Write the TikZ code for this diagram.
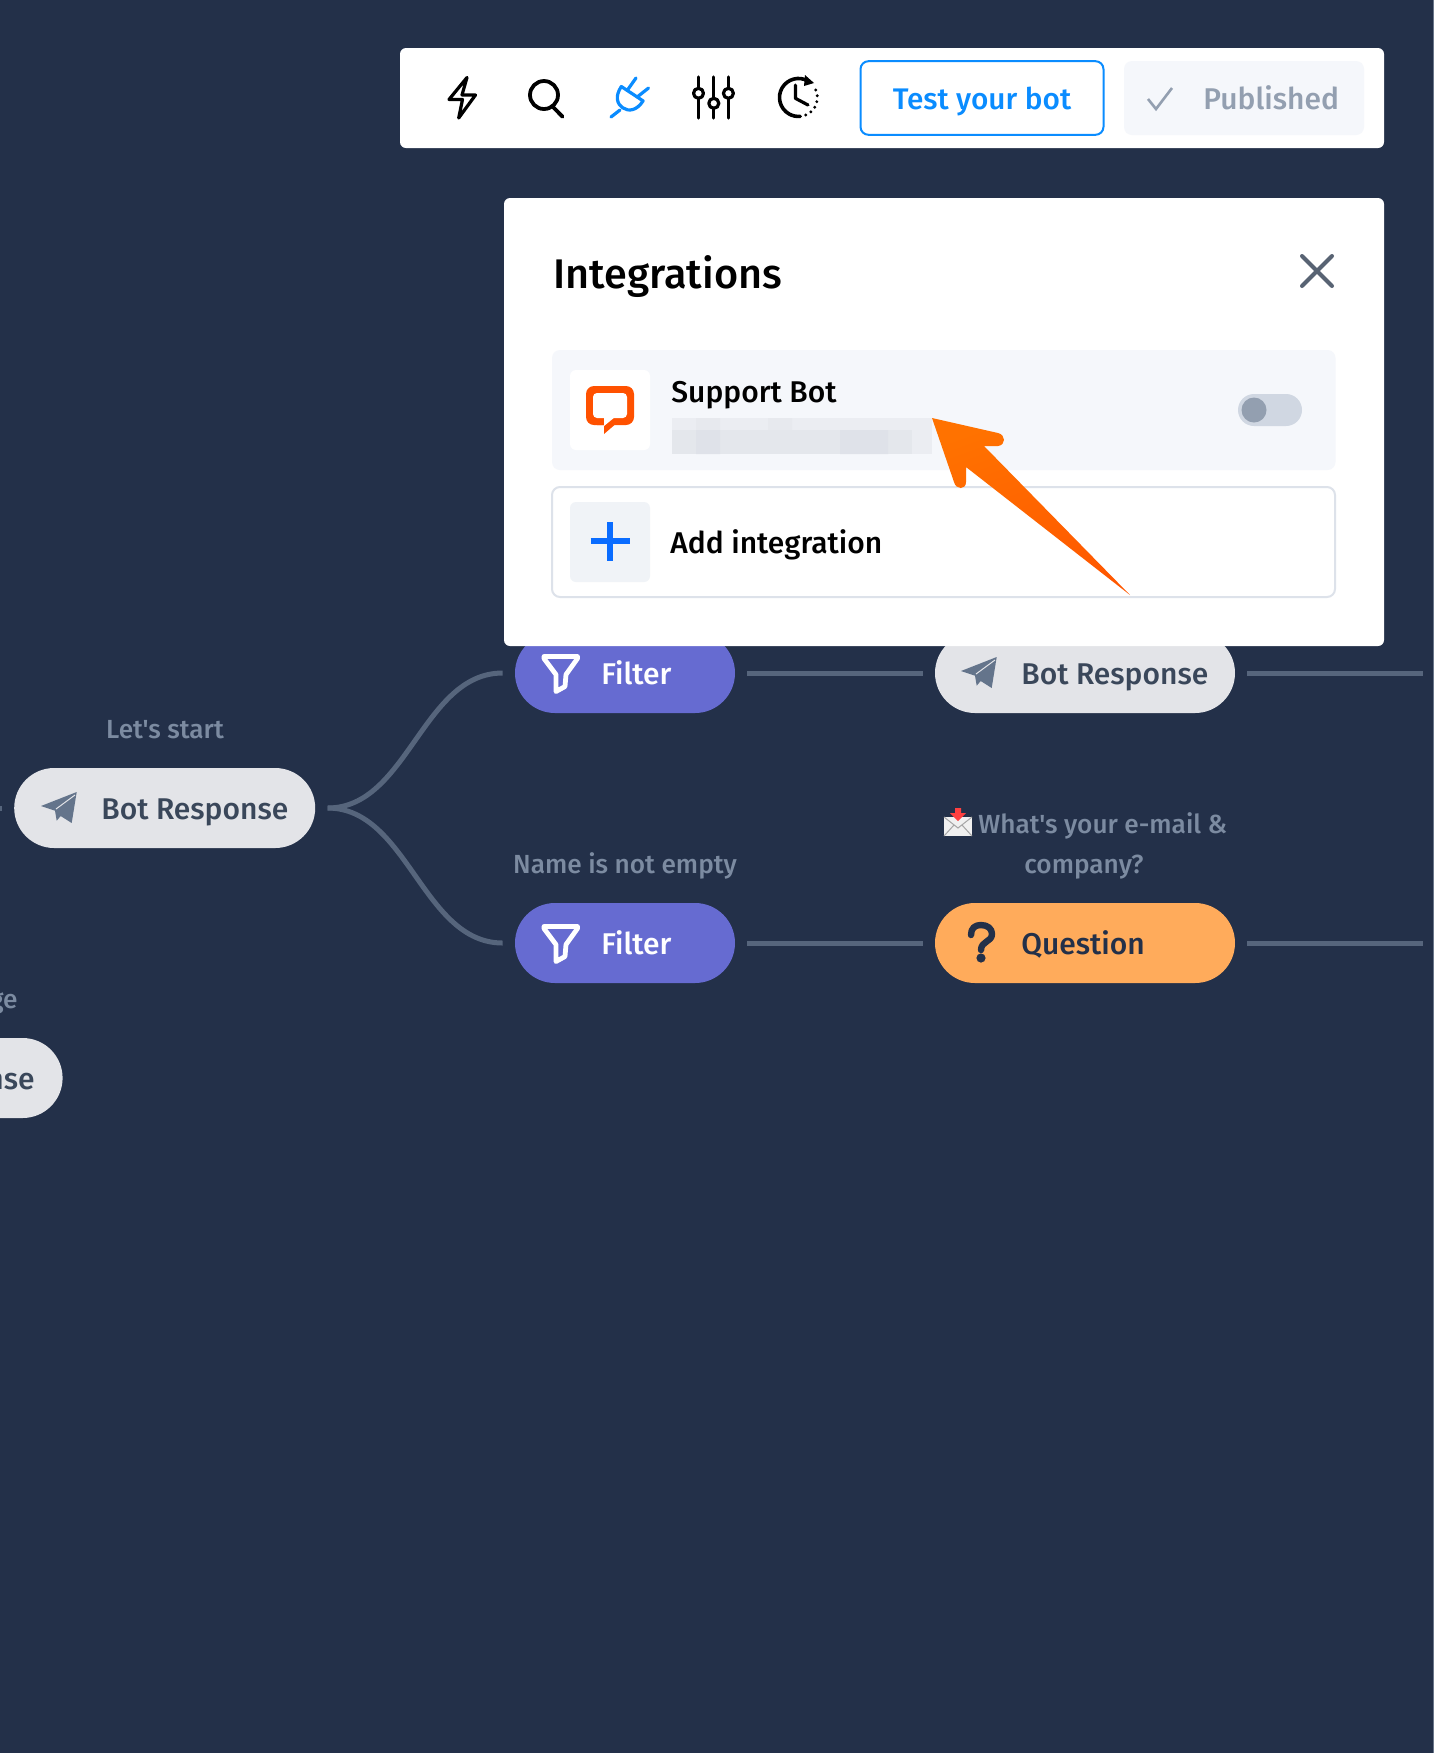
\documentclass[tikz,border=0pt]{standalone}
\usepackage{fontspec}
\setmainfont{Fira Sans}[UprightFont=* Medium,Ligatures=TeXOff]
\usetikzlibrary{shapes.misc}
\definecolor{bgc}{HTML}{233049}
\definecolor{linec}{HTML}{56657C}
\definecolor{labelc}{HTML}{7C8BA1}
\definecolor{pillgray}{HTML}{E3E4E8}
\definecolor{pillblue}{HTML}{666BD1}
\definecolor{pillorange}{HTML}{FFAB5B}
\definecolor{inkc}{HTML}{3A475A}
\definecolor{planec}{HTML}{64748B}
\definecolor{blueac}{HTML}{0A8CFF}
\definecolor{plusc}{HTML}{0A6CFF}
\definecolor{rowc}{HTML}{F5F7FB}
\definecolor{plusbox}{HTML}{F0F3F7}
\definecolor{borderc}{HTML}{DDE2EA}
\definecolor{togglec}{HTML}{D0D7E2}
\definecolor{knobc}{HTML}{939FB0}
\definecolor{orangec}{HTML}{FF5100}
\definecolor{arrowa}{HTML}{FF7200}
\definecolor{arrowb}{HTML}{FF5800}
\definecolor{bluraa}{HTML}{EBEDF2}
\definecolor{blurab}{HTML}{E7E9EE}
\definecolor{blurba}{HTML}{E4E7EC}
\definecolor{blurbb}{HTML}{DFE2E9}
\definecolor{edgec}{HTML}{6B778A}
\tikzset{
  pill/.style={rounded rectangle,minimum height=40pt,inner sep=0pt,draw=none},
  conn/.style={draw=linec,line width=2.5pt},
  nodetext/.style={anchor=base west,inner sep=0pt,font=\fontsize{15}{18}\selectfont},
  labeltext/.style={anchor=base,inner sep=0pt,text=labelc,font=\fontsize{13.1}{16}\selectfont},
  tool/.style={draw=black,line width=1.6pt,line join=round,line cap=round},
  plugline/.style={draw=blueac,line width=1.6pt,line join=round,line cap=round},
  panelbox/.style={fill=white,rounded corners=3pt},
  funnel/.style={draw=white,line width=2.4pt,line join=round},
}
\newcommand{\planeat}[2]{%
  \fill[planec,shift={(#1,#2)}] (35.7,-16) -- (0,-2) -- (14,2.7) -- (15.7,12.7) -- (19.7,8) -- (30.7,15) -- cycle;
  \draw[pillgray,line width=0.5pt,shift={(#1,#2)}] (34,-13) -- (15,1);}
\newcommand{\funnelat}[2]{\draw[funnel,shift={(#1,#2)}] (0,0) -- (33.5,0) -- (33.5,2) -- (22,18) -- (21,30) -- (12,35) -- (12,18) -- (0,2) -- cycle;}
\begin{document}
\begin{tikzpicture}[x=0.5pt,y=-0.5pt]
\fill[bgc,use as bounding box] (0,0) rectangle (1434,1753);
\fill[edgec] (1432.5,0) rectangle (1434,1753);
% flow nodes
\node[pill,fill=pillgray,minimum width=150.5pt] (bot) at (164.7,808) {};
\node[pill,fill=pillblue,minimum width=110pt] (filtertop) at (625,673) {};
\node[pill,fill=pillblue,minimum width=110pt] (filterbot) at (625,943) {};
\node[pill,fill=pillgray,minimum width=150pt] (bottop) at (1085,673) {};
\node[pill,fill=pillorange,minimum width=150pt] (question) at (1085,943) {};
\node[pill,fill=pillgray,minimum width=150pt] (botleft) at (-87.4,1078) {};
\coordinate (stub) at (0,808);
\coordinate (endtop) at (1423,673);
\coordinate (endbot) at (1423,943);
% connectors
\draw[conn] (stub) -- ([xshift=-6pt]bot.west);
\draw[conn] ([xshift=6pt]bot.east) .. controls +(40pt,0pt) and +(-40pt,0pt) .. ([xshift=-6pt]filtertop.west);
\draw[conn] ([xshift=6pt]bot.east) .. controls +(40pt,0pt) and +(-40pt,0pt) .. ([xshift=-6pt]filterbot.west);
\draw[conn] ([xshift=6pt]filtertop.east) -- ([xshift=-6pt]bottop.west);
\draw[conn] ([xshift=6pt]filterbot.east) -- ([xshift=-6pt]question.west);
\draw[conn] ([xshift=6pt]bottop.east) -- (endtop);
\draw[conn] ([xshift=6pt]question.east) -- (endbot);
% icons and node text
\planeat{41}{808}
\node[nodetext,text=inkc] (tbot) at (101,819) {Bot Response};
\funnelat{544}{656.5}
\node[nodetext,text=white] (tfiltertop) at (601,684) {Filter};
\funnelat{544}{926.5}
\node[nodetext,text=white] (tfilterbot) at (601,954) {Filter};
\planeat{961}{673}
\node[nodetext,text=inkc] (tbottop) at (1021,684) {Bot Response};
\node[nodetext,text=bgc] (tquestion) at (1021,954) {Question};
\draw[draw=bgc,line width=3.2pt,line cap=round,line join=round] (971,935) .. controls (971,928) and (975,925) .. (981,925) .. controls (988,925) and (992,929) .. (992,934) .. controls (992,942) and (981,941) .. (981,950);
\fill[bgc] (981,958) circle[radius=4.6];
\node[nodetext,text=inkc,anchor=base east] (tleft) at (35,1089) {nse};
% labels
\node[labeltext] (l1) at (165,738) {Let's start};
\node[labeltext] (l2) at (625,873) {Name is not empty};
\node[labeltext,anchor=base east] (l3) at (18,1008) {ge};
\node[labeltext,anchor=base west] (l4) at (978,833) {What's your e-mail \&};
\node[labeltext] (l5) at (1084,873) {company?};
% envelope emoji
\fill[white!88!gray] (944,817) rectangle (972,836);
\draw[gray!70,line width=0.5pt] (944,817) -- (958,828) -- (972,817) (944,836) -- (954,825) (972,836) -- (962,825);
\fill[red!75!white] (955,808) rectangle (961,813) (950,813) -- (966,813) -- (958,821) -- cycle;
% toolbar
\fill[panelbox] (400,48) rectangle (1384,148);
\draw[tool] (467,77.5) -- (449,99.5) -- (462.5,99.5) -- (458.7,118) -- (475.5,95) -- (462,95) -- cycle;
\draw[tool,line width=1.9pt] (544,95) circle[radius=14];
\draw[tool,line width=1.9pt] (553,107) -- (562.6,116.7);
\draw[plugline] (621.3,86.5) -- (643.1,100.9) .. controls (636.5,110.9) and (628.7,111.7) .. (622.9,107.9) .. controls (617,104) and (614.7,96.5) .. (621.3,86.5) -- cycle;
\draw[plugline] (627.2,90.4) -- (636,78);
\draw[plugline] (637.2,97) -- (648.5,88);
\draw[plugline] (620,110) -- (611,117);
\draw[tool] (698.5,77) -- (698.5,118) (713.8,77) -- (713.8,118) (728.4,77) -- (728.4,118);
\draw[tool,fill=white] (698.5,93.3) circle[radius=5] (713.8,103.3) circle[radius=5] (728.4,93.3) circle[radius=5];
\draw[tool,line width=1.8pt] (808,81) arc[start angle=-60,end angle=-275,radius=19];
\draw[black,line width=1.6pt,line cap=round,dash pattern=on 0pt off 3pt] (800,116.5) arc[start angle=85,end angle=-40,radius=19];
\fill[black] (805,75) -- (814,83) -- (804,86) -- cycle;
\draw[tool] (795.4,85) -- (795.4,98.3) -- (808,105);
\node[draw=blueac,line width=1pt,rounded corners=4pt,minimum width=121.5pt,minimum height=36.8pt,inner sep=0pt] (test) at (982,98) {};
\node[anchor=base,inner sep=0pt,text=blueac,font=\fontsize{14.9}{18}\selectfont] (ttest) at (982,109) {Test your bot};
\node[fill=rowc,rounded corners=4pt,minimum width=120pt,minimum height=37pt,inner sep=0pt] (pub) at (1244,98) {};
\draw[draw=knobc,line width=1.3pt] (1148,99) -- (1156,109) -- (1172,88);
\node[nodetext,text=knobc,anchor=base west] (tpub) at (1203,109) {Published};
% panel
\fill[panelbox] (504,198) rectangle (1384,646);
\node[anchor=base west,inner sep=0pt,text=black,font=\fontsize{20.7}{24}\selectfont] (ttl) at (553,288) {Integrations};
\draw[draw=inkc!85!white,line width=2pt,line cap=round] (1302,256) -- (1332,286) (1332,256) -- (1302,286);
\fill[rowc,rounded corners=4pt] (552,350) rectangle (1335.5,470);
\fill[white,rounded corners=3pt] (570,370) rectangle (650,450);
\fill[orangec,rounded corners=4pt] (586,386) rectangle (634,425);
\fill[orangec] (597,420) rectangle (604,425) (604,420) -- (618,422) -- (604,434) -- cycle;
\fill[white,rounded corners=2pt] (593,393) rectangle (627,418);
\fill[white] (604,416) -- (604,426) -- (615,417) -- cycle;
\node[anchor=base west,inner sep=0pt,text=black,font=\fontsize{15}{18}\selectfont] (tsup) at (671,402) {Support Bot};
% blurred text
\fill[bluraa] (672,418) rectangle (932,430);
\fill[blurab] (696,418) rectangle (720,430) (768,418) rectangle (792,430);
\fill[blurba] (672,430) rectangle (932,454);
\fill[blurbb] (696,430) rectangle (720,454) (840,430) rectangle (888,454);
\fill[bluraa] (912,430) rectangle (932,454);
% toggle
\fill[togglec] (1254,394) -- (1286,394) arc[start angle=-90,end angle=90,radius=16] -- (1254,426) arc[start angle=90,end angle=270,radius=16] -- cycle;
\fill[knobc] (1254,410) circle[radius=12.5];
% add row
\draw[draw=borderc,line width=1pt,rounded corners=4pt] (552,487) rectangle (1335,597);
\fill[plusbox,rounded corners=3pt] (570,502) rectangle (650,582);
\draw[draw=plusc,line width=2.8pt] (590.5,541) -- (630,541) (610,522) -- (610,561);
\node[anchor=base west,inner sep=0pt,text=black,font=\fontsize{15}{18}\selectfont] (tadd) at (670,553) {Add integration};
% big arrow
\shade[top color=arrowa,bottom color=arrowb,shading angle=20] (932,418) -- (998,433) .. controls (1006,435) and (1006,445) .. (998,446) -- (984,446) -- (1130,595) -- (966,467) -- (966,482) .. controls (966,490) and (956,490) .. (954,482) -- cycle;
\end{tikzpicture}
\end{document}
